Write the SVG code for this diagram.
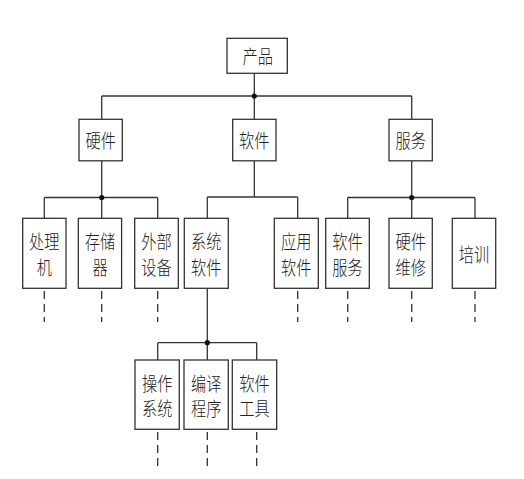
<svg xmlns="http://www.w3.org/2000/svg" width="524" height="479" viewBox="0 0 524 479">
<style>
rect.b{fill:#fff;stroke:#333;stroke-width:1.3}
text{font-family:"Noto Sans CJK SC","Noto Sans",sans-serif;font-size:19px;font-weight:300;fill:#222;text-anchor:middle;dominant-baseline:central}
.c line{stroke:#333;stroke-width:1.3}
.c line.d{stroke-dasharray:8,5}
.c circle{fill:#111}
</style>
<rect width="524" height="479" fill="#fff"/>
<g class="c" id="connectors">
<line x1="254.3" y1="73" x2="254.3" y2="96"/>
<line x1="101.7" y1="96" x2="411.7" y2="96"/>
<line x1="101.7" y1="96" x2="101.7" y2="119"/>
<line x1="254.3" y1="96" x2="254.3" y2="119"/>
<line x1="411.7" y1="96" x2="411.7" y2="119"/>
<circle cx="254.3" cy="96" r="2.6"/>
<line x1="101.7" y1="161" x2="101.7" y2="197.5"/>
<line x1="44.3" y1="197.5" x2="157.7" y2="197.5"/>
<line x1="44.3" y1="197.5" x2="44.3" y2="218"/>
<line x1="101.7" y1="197.5" x2="101.7" y2="218"/>
<line x1="157.7" y1="197.5" x2="157.7" y2="218"/>
<circle cx="101.7" cy="197.5" r="2.6"/>
<line x1="254.3" y1="161" x2="254.3" y2="197"/>
<line x1="207.3" y1="197" x2="297.7" y2="197"/>
<line x1="207.3" y1="197" x2="207.3" y2="218"/>
<line x1="297.7" y1="197" x2="297.7" y2="218"/>
<line x1="411.7" y1="161" x2="411.7" y2="197.5"/>
<line x1="347.7" y1="197.5" x2="475" y2="197.5"/>
<line x1="347.7" y1="197.5" x2="347.7" y2="218"/>
<line x1="411.7" y1="197.5" x2="411.7" y2="218"/>
<line x1="475" y1="197.5" x2="475" y2="218"/>
<circle cx="411.7" cy="197.5" r="2.6"/>
<line x1="207.3" y1="288" x2="207.3" y2="342.7"/>
<line x1="157.7" y1="342.7" x2="256.7" y2="342.7"/>
<line x1="157.7" y1="342.7" x2="157.7" y2="360"/>
<line x1="207.3" y1="342.7" x2="207.3" y2="360"/>
<line x1="256.7" y1="342.7" x2="256.7" y2="360"/>
<circle cx="207.3" cy="342.7" r="2.6"/>
<line class="d" x1="44.3" y1="291" x2="44.3" y2="322"/>
<line class="d" x1="101.7" y1="291" x2="101.7" y2="322"/>
<line class="d" x1="157.7" y1="291" x2="157.7" y2="322"/>
<line class="d" x1="297.7" y1="291" x2="297.7" y2="322"/>
<line class="d" x1="347.7" y1="291" x2="347.7" y2="322"/>
<line class="d" x1="411.7" y1="291" x2="411.7" y2="322"/>
<line class="d" x1="475" y1="291" x2="475" y2="322"/>
<line class="d" x1="157.7" y1="432" x2="157.7" y2="467"/>
<line class="d" x1="207.3" y1="432" x2="207.3" y2="467"/>
<line class="d" x1="256.7" y1="432" x2="256.7" y2="467"/>
</g>
<g id="n-product"><rect class="b" x="227" y="38.3" width="60.3" height="35"/><text transform="translate(257.7 56) scale(0.8 1)">产品</text></g>
<g id="n-hardware"><rect class="b" x="79" y="119.3" width="43.3" height="41.5"/><text transform="translate(100.7 140) scale(0.8 1)">硬件</text></g>
<g id="n-software"><rect class="b" x="232.7" y="119.3" width="43.3" height="41.5"/><text transform="translate(254.3 140) scale(0.8 1)">软件</text></g>
<g id="n-service"><rect class="b" x="389" y="119.3" width="43.3" height="41.5"/><text transform="translate(410.7 140) scale(0.8 1)">服务</text></g>
<g id="n-cpu"><rect class="b" x="22.7" y="218.3" width="43.3" height="70"/><text transform="translate(44.3 241) scale(0.8 1)">处理</text><text transform="translate(44.3 267) scale(0.8 1)">机</text></g>
<g id="n-storage"><rect class="b" x="78.3" y="218.3" width="43.3" height="70"/><text transform="translate(100 241) scale(0.8 1)">存储</text><text transform="translate(100 267) scale(0.8 1)">器</text></g>
<g id="n-peripheral"><rect class="b" x="134.7" y="218.3" width="43.6" height="70"/><text transform="translate(156.5 241) scale(0.8 1)">外部</text><text transform="translate(156.5 267) scale(0.8 1)">设备</text></g>
<g id="n-syssoft"><rect class="b" x="184.3" y="218.3" width="44" height="70"/><text transform="translate(206.3 241) scale(0.8 1)">系统</text><text transform="translate(206.3 267) scale(0.8 1)">软件</text></g>
<g id="n-appsoft"><rect class="b" x="274.3" y="218.3" width="44" height="70"/><text transform="translate(296.3 241) scale(0.8 1)">应用</text><text transform="translate(296.3 267) scale(0.8 1)">软件</text></g>
<g id="n-softservice"><rect class="b" x="325.7" y="218.3" width="43.6" height="70"/><text transform="translate(347.5 241) scale(0.8 1)">软件</text><text transform="translate(347.5 267) scale(0.8 1)">服务</text></g>
<g id="n-repair"><rect class="b" x="389" y="218.3" width="43.3" height="70"/><text transform="translate(410.7 241) scale(0.8 1)">硬件</text><text transform="translate(410.7 267) scale(0.8 1)">维修</text></g>
<g id="n-training"><rect class="b" x="452.3" y="218.3" width="43.4" height="70"/><text transform="translate(474 254) scale(0.8 1)">培训</text></g>
<g id="n-os"><rect class="b" x="135" y="360" width="44.3" height="69.3"/><text transform="translate(157.2 383) scale(0.8 1)">操作</text><text transform="translate(157.2 408) scale(0.8 1)">系统</text></g>
<g id="n-compiler"><rect class="b" x="184" y="360" width="44.3" height="69.3"/><text transform="translate(206.2 383) scale(0.8 1)">编译</text><text transform="translate(206.2 408) scale(0.8 1)">程序</text></g>
<g id="n-tools"><rect class="b" x="232.3" y="360" width="44.4" height="69.3"/><text transform="translate(254.5 383) scale(0.8 1)">软件</text><text transform="translate(254.5 408) scale(0.8 1)">工具</text></g>
</svg>
